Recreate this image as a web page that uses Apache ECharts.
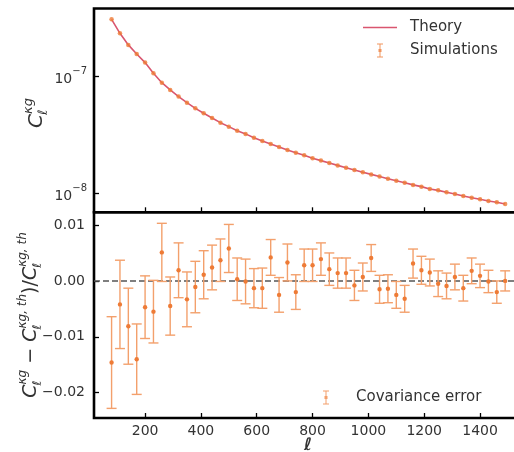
<!DOCTYPE html>
<html>
<head>
<meta charset="utf-8">
<script src="https://cdn.jsdelivr.net/npm/echarts@6/dist/echarts.min.js"></script>
<style>
html,body{margin:0;padding:0;background:#fff;}
#chart{width:514px;height:452px;}
</style>
</head>
<body>
<div id="chart"></div>
<script>
// ---------- data ----------
const ell = [80,110,140,170,200,230,260,290,320,350,380,410,440,470,500,530,560,590,620,650,680,710,740,770,800,830,860,890,920,950,980,1010,1040,1070,1100,1130,1160,1190,1220,1250,1280,1310,1340,1370,1400,1430,1460,1490];
const cellSim = [3.04e-7,2.31e-7,1.84e-7,1.54e-7,1.30e-7,1.054e-7,8.77e-8,7.60e-8,6.67e-8,5.92e-8,
  5.30e-8,4.81e-8,4.39e-8,4.00e-8,3.70e-8,3.42e-8,3.21e-8,2.98e-8,2.79e-8,2.63e-8,
  2.48e-8,2.34e-8,2.22e-8,2.11e-8,1.99e-8,1.90e-8,1.81e-8,1.73e-8,1.65e-8,1.58e-8,
  1.51e-8,1.45e-8,1.39e-8,1.33e-8,1.28e-8,1.23e-8,1.18e-8,1.14e-8,1.09e-8,1.06e-8,
  1.02e-8,9.86e-9,9.48e-9,9.18e-9,8.89e-9,8.59e-9,8.38e-9,8.11e-9];
const cellTheory = [3.04e-7,2.31e-7,1.84e-7,1.54e-7,1.30e-7,1.054e-7,8.77e-8,7.60e-8,6.67e-8,5.92e-8,
  5.30e-8,4.81e-8,4.39e-8,4.00e-8,3.70e-8,3.42e-8,3.21e-8,2.98e-8,2.79e-8,2.63e-8,
  2.48e-8,2.34e-8,2.22e-8,2.11e-8,1.99e-8,1.90e-8,1.81e-8,1.73e-8,1.65e-8,1.58e-8,
  1.51e-8,1.45e-8,1.39e-8,1.33e-8,1.28e-8,1.23e-8,1.18e-8,1.14e-8,1.09e-8,1.06e-8,
  1.02e-8,9.86e-9,9.48e-9,9.18e-9,8.89e-9,8.59e-9,8.38e-9,8.11e-9];
const ratio = [-0.0146,-0.0042,-0.0081,-0.0140,-0.0047,-0.0055,0.0051,-0.0045,0.0019,-0.0033,
  -0.0011,0.0011,0.0024,0.0037,0.0058,0.0003,-0.0001,-0.0013,-0.0013,0.0042,
  -0.0025,0.0033,-0.0020,0.0028,0.0028,0.0039,0.0021,0.0014,0.0014,-0.0008,
  0.0007,0.0041,-0.0015,-0.0014,-0.0025,-0.0032,0.0031,0.0019,0.0015,-0.0005,
  -0.0009,0.0007,-0.0013,0.0018,0.0009,-0.0001,-0.0020,0.0000];
const ratioErr = [0.0082,0.0079,0.0068,0.0063,0.0056,0.0056,0.0052,0.0052,0.0049,0.0049,
  0.0046,0.0043,0.0040,0.0038,0.0043,0.0038,0.0040,0.0035,0.0036,0.0032,
  0.0031,0.0033,0.0031,0.0029,0.0029,0.0029,0.0029,0.0027,0.0027,0.0027,
  0.0025,0.0024,0.0025,0.0025,0.0024,0.0024,0.0026,0.0025,0.0024,0.0023,
  0.0023,0.0023,0.0023,0.0023,0.0021,0.0020,0.0020,0.0018];
const xTicks = [200,400,600,800,1000,1200,1400];
const ratioTicks = [-0.02,-0.01,0,0.01];

// ---------- styling ----------
const FONT = '"DejaVu Sans"';
const TXT = '#333';
const THEORY = '#d9566f';
const DOT = '#ee7b36';
const BAR = '#f3a06c';

const chart = echarts.init(document.getElementById('chart'), null, {renderer:'canvas'});

const measureCtx = document.createElement('canvas').getContext('2d');
function tw(t, size, italic){
  measureCtx.font = (italic ? 'italic ' : '') + size + 'px ' + FONT;
  return measureCtx.measureText(t).width;
}
// rotated math-like label built from text pieces
function mathLabel(pieces, cx, cy, base, script, supDy, subDy){
  let x = 0; const kids = [];
  pieces.forEach(p => {
    kids.push({type:'text', x:x, y:0, style:{text:p.base, font:(p.italic?'italic ':'')+base+'px '+FONT, fill:TXT, align:'left', verticalAlign:'middle'}});
    x += tw(p.base, base, p.italic);
    if (p.sup || p.sub){
      let w = 0;
      if (p.sup){ kids.push({type:'text', x:x, y:supDy, style:{text:p.sup, font:'italic '+script+'px '+FONT, fill:TXT, align:'left', verticalAlign:'middle'}}); w = Math.max(w, tw(p.sup, script, true)); }
      if (p.sub){ kids.push({type:'text', x:x-1, y:subDy, style:{text:p.sub, font:'italic '+script+'px '+FONT, fill:TXT, align:'left', verticalAlign:'middle'}}); w = Math.max(w, tw(p.sub, script, true)); }
      x += w;
    }
  });
  return {type:'group', rotation:Math.PI/2, x:cx, y:cy + x/2, children:kids, silent:true};
}

const errPath = 'path://M0,0H6V1H0ZM2.5,1H3.5V13H2.5ZM0,13H6V14H0ZM1.5,5.5H4.5V8.5H1.5Z';

function errRender(params, api){
  const x = api.value(0), y = api.value(1), e = api.value(2);
  const t = api.coord([x, y + e]), b = api.coord([x, y - e]), c = api.coord([x, y]);
  const hw = 5;
  const ls = {stroke:BAR, lineWidth:1.4};
  return {type:'group', children:[
    {type:'line', shape:{x1:t[0], y1:t[1], x2:b[0], y2:b[1]}, style:ls},
    {type:'line', shape:{x1:t[0]-hw, y1:t[1], x2:t[0]+hw, y2:t[1]}, style:ls},
    {type:'line', shape:{x1:b[0]-hw, y1:b[1], x2:b[0]+hw, y2:b[1]}, style:ls},
    {type:'circle', shape:{cx:c[0], cy:c[1], r:2.2}, style:{fill:DOT}}
  ]};
}

const tickStyle = {show:true, inside:true, length:5, lineStyle:{color:'#000', width:1.3}};
const noLine = {show:false, onZero:false};
const labelBase = {fontFamily:FONT, fontSize:14, color:TXT};
const X_MIN = 17, X_MAX = 1536;
const gridBase = {show:true, borderColor:'#000', borderWidth:2.6, backgroundColor:'transparent',
  outerBoundsMode:'none', containLabel:false};

const option = {
  animation:false,
  backgroundColor:'#fff',
  grid:[
    Object.assign({left:94, top:8.5, width:424, height:203.8}, gridBase),
    Object.assign({left:94, top:212.3, width:424, height:205.7}, gridBase)
  ],
  xAxis:[
    {type:'value', gridIndex:0, min:X_MIN, max:X_MAX,
     axisLine:noLine, splitLine:{show:false},
     axisTick:Object.assign({customValues:xTicks}, tickStyle),
     axisLabel:{show:false, customValues:xTicks}},
    {type:'value', gridIndex:1, min:X_MIN, max:X_MAX,
     axisLine:noLine, splitLine:{show:false},
     axisTick:Object.assign({customValues:xTicks}, tickStyle),
     axisLabel:Object.assign({customValues:xTicks, margin:6,
       formatter:function(v){ return String(v); }}, labelBase)}
  ],
  yAxis:[
    {type:'log', gridIndex:0, logBase:10, min:6.89e-9, max:3.76e-7,
     axisLine:noLine, splitLine:{show:false}, minorTick:{show:false},
     axisTick:tickStyle,
     axisLabel:{showMinLabel:false, showMaxLabel:false, margin:7,
       formatter:function(v){ const e = Math.round(Math.log10(v)); return '{b|10}{s|\u2212' + Math.abs(e) + '}'; },
       rich:{b:{fontFamily:FONT, fontSize:14, color:TXT, lineHeight:20, verticalAlign:'bottom'},
             s:{fontFamily:FONT, fontSize:10, color:TXT, lineHeight:20, verticalAlign:'top'}}}},
    {type:'value', gridIndex:1, min:-0.02452, max:0.01227,
     axisLine:noLine, splitLine:{show:false},
     axisTick:Object.assign({customValues:ratioTicks}, tickStyle),
     axisLabel:Object.assign({customValues:ratioTicks, margin:9,
       formatter:function(v){ const s = Math.abs(v).toFixed(2); return (v < -1e-9 ? '\u2212' : '') + s; }}, labelBase)}
  ],
  legend:[
    {orient:'vertical', left:363, top:20, padding:0, itemWidth:34, itemHeight:14, itemGap:8,
     textStyle:{fontFamily:FONT, fontSize:15, color:TXT, padding:[0,0,0,8]},
     data:[{name:'Theory', icon:'path://M0,0H34V1.6H0Z'}, {name:'Simulations', icon:errPath}]},
    {orient:'vertical', left:323, top:390, padding:0, itemWidth:34, itemHeight:14,
     textStyle:{fontFamily:FONT, fontSize:15, color:TXT, padding:[0,0,0,8]},
     data:[{name:'Covariance error', icon:errPath}]}
  ],
  series:[
    {name:'Theory', type:'line', xAxisIndex:0, yAxisIndex:0, color:THEORY,
     showSymbol:false, lineStyle:{width:1.6, color:THEORY}, z:2,
     data:ell.map((l,i)=>[l, cellTheory[i]])},
    {name:'Simulations', type:'scatter', xAxisIndex:0, yAxisIndex:0, color:DOT,
     symbolSize:4.5, itemStyle:{color:DOT}, z:3,
     data:ell.map((l,i)=>[l, cellSim[i]])},
    {name:'Covariance error', type:'custom', xAxisIndex:1, yAxisIndex:1, color:BAR,
     itemStyle:{color:BAR}, renderItem:errRender, z:3,
     encode:{x:0, y:1},
     data:ell.map((l,i)=>[l, ratio[i], ratioErr[i]]),
     markLine:{silent:true, symbol:'none', label:{show:false}, z:1,
       lineStyle:{type:[6,3], color:'#555', width:1.5},
       data:[{yAxis:0}]}}
  ],
  graphic:[
    mathLabel([{base:'C', italic:true, sup:'\u03bag', sub:'\u2113'}], 37, 113, 20, 13, -8, 7),
    mathLabel([
      {base:'C', italic:true, sup:'\u03bag', sub:'\u2113'},
      {base:' \u2212 ', italic:false},
      {base:'C', italic:true, sup:'\u03bag, th', sub:'\u2113'},
      {base:')/', italic:false},
      {base:'C', italic:true, sup:'\u03bag, th', sub:'\u2113'}
    ], 31, 315, 19, 12, -8, 7),
    {type:'text', x:308, y:446, silent:true,
     style:{text:'\u2113', font:'italic bold 17px '+FONT, fill:TXT, align:'center', verticalAlign:'middle'}}
  ]
};
chart.setOption(option);
</script>
</body>
</html>
